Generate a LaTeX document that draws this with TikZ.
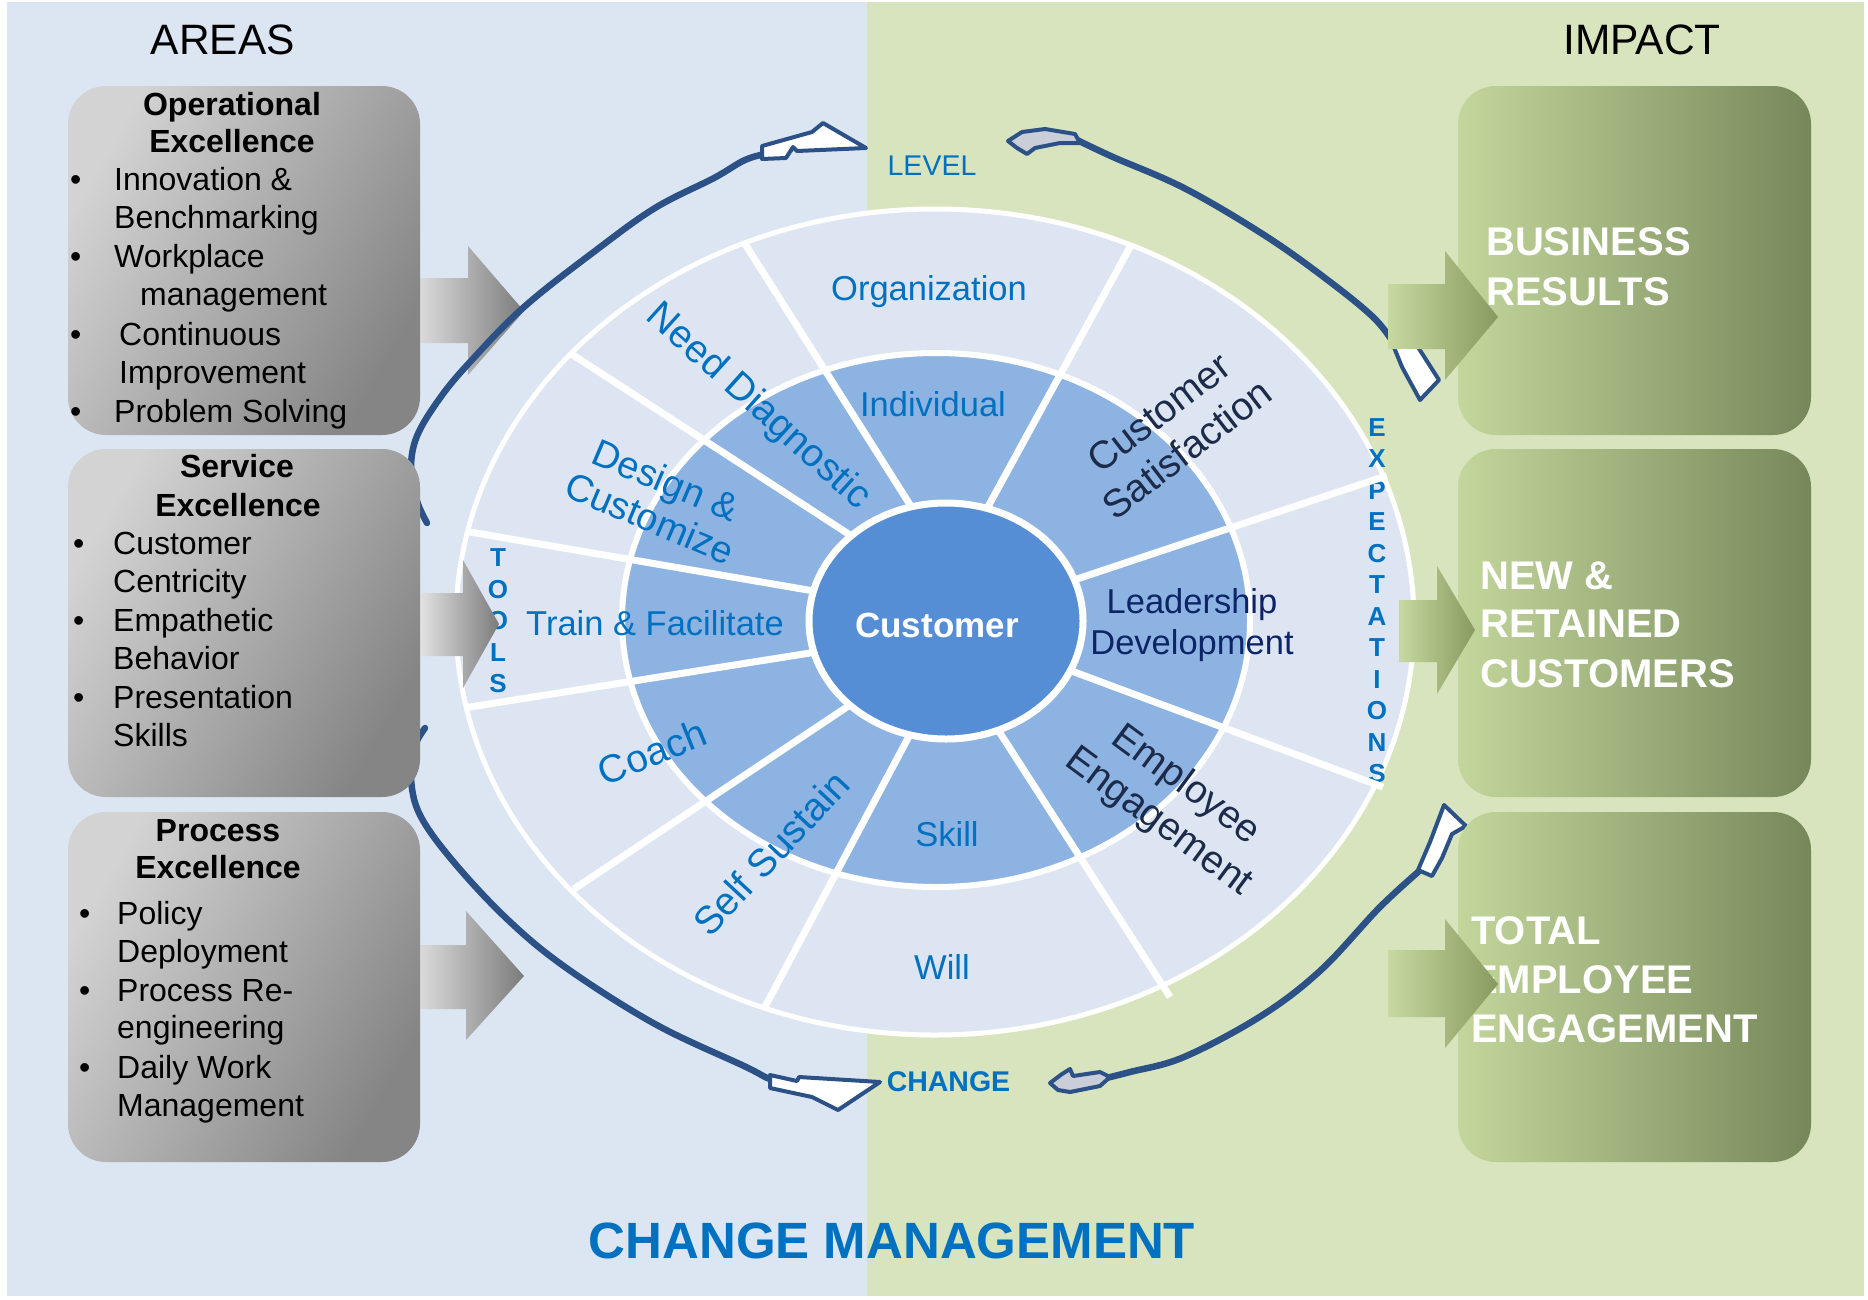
\documentclass[tikz,border=0pt]{standalone}
\usepackage{fontspec}
\setmainfont{Liberation Sans}
\definecolor{bgl}{HTML}{DCE6F2}
\definecolor{bgr}{HTML}{D7E4BD}
\definecolor{ringo}{HTML}{DCE5F1}
\definecolor{ringm}{HTML}{8DB3E2}
\definecolor{custc}{HTML}{558ED5}
\definecolor{tblue}{HTML}{0070C0}
\definecolor{navyt}{HTML}{0D2467}
\definecolor{darkt}{HTML}{1C2B4A}
\definecolor{curvec}{HTML}{2C5187}
\definecolor{tailc}{HTML}{C9CED8}
\definecolor{gboxl}{HTML}{D3D3D3}
\definecolor{gboxr}{HTML}{858585}
\definecolor{garl}{HTML}{E2E2E2}
\definecolor{garr}{HTML}{7C7C7C}
\definecolor{grboxl}{HTML}{C3D69B}
\definecolor{grboxr}{HTML}{76885A}
\definecolor{grarl}{HTML}{C6D9A0}
\definecolor{grarr}{HTML}{889A5F}
\begin{document}
\begin{tikzpicture}[x=1pt,y=-1pt,
  lbl/.style={font={\fontsize{34.5}{41}\selectfont}, text=tblue, inner sep=0pt},
  rlbl/.style={font={\fontsize{39}{46}\selectfont}, text=tblue, inner sep=0pt},
  lettr/.style={font={\fontsize{26}{30}\selectfont\bfseries}, text=tblue, inner sep=0pt, text height=19pt, text depth=0pt},
  spokeln/.style={white, line width=7pt, shorten <=-4pt, shorten >=-20pt},
  headtxt/.style={font={\fontsize{32}{38}\selectfont\bfseries}, text=black, inner sep=0pt, anchor=base},
  itemtxt/.style={font={\fontsize{32}{38}\selectfont}, text=black, inner sep=0pt, anchor=base west},
  gtxt/.style={font={\fontsize{40}{48}\selectfont\bfseries}, text=white, inner sep=0pt, anchor=base west},
  titletxt/.style={font={\fontsize{42.5}{50}\selectfont}, text=black, inner sep=0pt, anchor=base},
  graybox/.style={rounded corners=38pt, top color=gboxl, bottom color=gboxr, shading angle=60, minimum width=352pt, inner sep=0pt},
  greenbox/.style={rounded corners=38pt, left color=grboxl, right color=grboxr, minimum width=353pt, inner sep=0pt},
  grayarr/.style={left color=garl, right color=garr},
  greenarr/.style={left color=grarl, right color=grarr},
  curveln/.style={draw=curvec, line width=6.5pt, line cap=round, line join=round},
  headshape/.style={fill=white, draw=curvec, line width=4pt, line join=round},
  tailshape/.style={fill=tailc, draw=curvec, line width=4pt, line join=round}
]
\useasboundingbox (0,0) rectangle (1868,1299);
\fill[white] (0,0) rectangle (1868,1299);
\fill[bgl] (7,2) rectangle (867,1296);
\fill[bgr] (867,2) rectangle (1864,1296);

% ---------- wheel ----------
\draw[white, line width=5pt, fill=ringo] (935,622) ellipse [x radius=479, y radius=413];
\draw[white, line width=6pt, fill=ringm] (936,620) ellipse [x radius=314, y radius=267];

\foreach \l [count=\i] in {T,O,O,L,S}
  \node[lettr] (tools\i) at (498,{557+(\i-1)*31.5}) {\l};
\foreach \l [count=\i] in {E,X,P,E,C,T,A,T,I,O,N,S}
  \node[lettr] (expe\i) at (1377,{427+(\i-1)*31.45}) {\l};

\draw[spokeln] (747,247) -- (907,500);
\draw[spokeln] (573,355) -- (847,533);
\draw[spokeln] (470,532) -- (808,590);
\draw[spokeln] (470,707) -- (810,653);
\draw[spokeln] (577,887) -- (847,707);
\draw[spokeln] (767,1003) -- (907,740);
\draw[spokeln, shorten <=0pt] (1170,997) -- (1000,733);
\draw[spokeln, shorten <=0pt] (1383,787) -- (1077,673);
\draw[spokeln] (1383,477) -- (1083,577);
\draw[spokeln] (1130,247) -- (990,503);

\draw[white, line width=7pt, fill=custc] (946,621) ellipse [x radius=137, y radius=118];

\node[lbl] (org) at (929,292) {Organization};
\node[lbl] (indiv) at (933,404) {Individual};
\node[font={\fontsize{35}{42}\selectfont\bfseries}, text=white, inner sep=0pt] (cust) at (937,625) {Customer};
\node[lbl] (train) at (655,623) {Train \& Facilitate};
\node[lbl, text=navyt, align=center] (lead) at (1192,625) {Leadership\\Development};
\node[lbl] (skill) at (947,834) {Skill};
\node[lbl] (will) at (942,967) {Will};
\node[rlbl, rotate=-42] (need) at (758,407) {Need Diagnostic};
\node[rlbl, rotate=-23, align=center, font={\fontsize{38}{41}\selectfont}] (design) at (658,499) {Design \&\\Customize};
\node[rlbl, rotate=22] (coach) at (652,752) {Coach};
\node[rlbl, rotate=47] (selfs) at (771,853) {Self Sustain};
\node[rlbl, rotate=37.5, text=darkt, align=center] (csat) at (1173,431) {Customer\\Satisfaction};
\node[rlbl, rotate=-36.5, text=darkt, align=center] (empe) at (1172,804) {Employee\\Engagement};

% ---------- gray arrows ----------
\shade[grayarr] (411,278) -- (468,278) -- (468,246) -- (524,311) -- (468,375) -- (468,343) -- (411,343) -- cycle;
\shade[grayarr] (420,593) -- (463,593) -- (463,560) -- (499,624) -- (463,688) -- (463,656) -- (420,656) -- cycle;
\shade[grayarr] (411,945) -- (466,945) -- (466,911) -- (524,976) -- (466,1040) -- (466,1009) -- (411,1009) -- cycle;

% ---------- left curved arrows ----------
\draw[curveln] plot[smooth, tension=0.6] coordinates {(427,523) (417,501) (411,469) (417,436) (440,398) (470,362) (524,307) (595,251) (655,208) (714,178) (745,160) (770,153) (790,150)};
\filldraw[headshape] (762,146) -- (812,132) -- (823,123) -- (866,148) -- (797,151) -- (793,147) -- (786,158) -- (762,159) -- cycle;
\draw[curveln] plot[smooth, tension=0.6] coordinates {(425,728) (414,748) (411,779) (420,815) (452,860) (506,918) (565,967) (655,1024) (744,1066) (770,1079) (790,1082)};
\filldraw[headshape] (770,1075) -- (797,1081) -- (799,1077) -- (880,1082) -- (838,1110) -- (812,1097) -- (770,1088) -- cycle;

% ---------- gray boxes ----------
\node[graybox, minimum height=349pt] (box1) at (244,260.5) {};
\node[graybox, minimum height=348pt] (box2) at (244,623) {};
\node[graybox, minimum height=350pt] (box3) at (244,987) {};

\node[headtxt] (h1a) at (232,115) {Operational};
\node[headtxt] (h1b) at (232,152) {Excellence};
\node[itemtxt] (b1a) at (70,190) {•};
\node[itemtxt] (b1b) at (70,267) {•};
\node[itemtxt] (b1c) at (70,345) {•};
\node[itemtxt] (b1d) at (70,422) {•};
\node[itemtxt] (i1a) at (114,190) {Innovation \&};
\node[itemtxt] (i1b) at (114,228) {Benchmarking};
\node[itemtxt] (i1c) at (114,267) {Workplace};
\node[itemtxt] (i1d) at (140,305) {management};
\node[itemtxt] (i1e) at (119,345) {Continuous};
\node[itemtxt] (i1f) at (119,383) {Improvement};
\node[itemtxt] (i1g) at (114,422) {Problem Solving};

\node[headtxt] (h2a) at (237,477) {Service};
\node[headtxt] (h2b) at (238,516) {Excellence};
\node[itemtxt] (b2a) at (73,554) {•};
\node[itemtxt] (b2b) at (73,631) {•};
\node[itemtxt] (b2c) at (73,708) {•};
\node[itemtxt] (i2a) at (113,554) {Customer};
\node[itemtxt] (i2b) at (113,592) {Centricity};
\node[itemtxt] (i2c) at (113,631) {Empathetic};
\node[itemtxt] (i2d) at (113,669) {Behavior};
\node[itemtxt] (i2e) at (113,708) {Presentation};
\node[itemtxt] (i2f) at (113,746) {Skills};

\node[headtxt] (h3a) at (218,841) {Process};
\node[headtxt] (h3b) at (218,878) {Excellence};
\node[itemtxt] (b3a) at (79,924) {•};
\node[itemtxt] (b3b) at (79,1001) {•};
\node[itemtxt] (b3c) at (79,1078) {•};
\node[itemtxt] (i3a) at (117,924) {Policy};
\node[itemtxt] (i3b) at (117,962) {Deployment};
\node[itemtxt] (i3c) at (117,1001) {Process Re-};
\node[itemtxt] (i3d) at (117,1038) {engineering};
\node[itemtxt] (i3e) at (117,1078) {Daily Work};
\node[itemtxt] (i3f) at (117,1116) {Management};

% ---------- right curved arrows ----------
\draw[curveln] plot[smooth, tension=0.6] coordinates {(1075,139) (1113,157) (1184,188) (1261,233) (1321,275) (1374,318) (1398,350)};
\filldraw[tailshape] (1008,141) -- (1022,132) -- (1045,129) -- (1075,134) -- (1080,143) -- (1060,143) -- (1035,148) -- (1027,154) -- (1017,148) -- cycle;
\filldraw[headshape] (1393,345) -- (1416,344) -- (1439,380) -- (1420,400) -- (1402,367) -- cycle;
\draw[curveln] plot[smooth, tension=0.6] coordinates {(1102,1079) (1130,1072) (1184,1057) (1261,1016) (1321,970) (1380,907) (1425,866)};
\filldraw[tailshape] (1050,1083) -- (1062,1074) -- (1070,1069) -- (1073,1076) -- (1100,1072) -- (1110,1077) -- (1100,1086) -- (1070,1092) -- (1058,1090) -- cycle;
\filldraw[headshape] (1418,870) -- (1430,842) -- (1444,805) -- (1466,826) -- (1452,834) -- (1442,858) -- (1432,876) -- cycle;

% ---------- green boxes ----------
\node[greenbox, minimum height=349pt] (gbox1) at (1634.5,260.5) {};
\node[greenbox, minimum height=348pt] (gbox2) at (1634.5,623) {};
\node[greenbox, minimum height=350pt] (gbox3) at (1634.5,987) {};

\node[gtxt] (g1a) at (1486,255) {BUSINESS};
\node[gtxt] (g1b) at (1486,305) {RESULTS};
\node[gtxt] (g2a) at (1480,589) {NEW \&};
\node[gtxt] (g2b) at (1480,637) {RETAINED};
\node[gtxt] (g2c) at (1480,687) {CUSTOMERS};
\node[gtxt] (g3a) at (1471,944) {TOTAL};
\node[gtxt] (g3b) at (1471,993) {EMPLOYEE};
\node[gtxt] (g3c) at (1471,1042) {ENGAGEMENT};

% ---------- green arrows ----------
\shade[greenarr] (1388,284) -- (1445,284) -- (1445,251) -- (1498,317) -- (1445,380) -- (1445,349) -- (1388,349) -- cycle;
\shade[greenarr] (1399,600) -- (1437,600) -- (1437,566) -- (1475,630) -- (1437,694) -- (1437,662) -- (1399,662) -- cycle;
\shade[greenarr] (1388,950) -- (1445,950) -- (1445,919) -- (1498,984) -- (1445,1048) -- (1445,1017) -- (1388,1017) -- cycle;

% ---------- titles ----------
\node[titletxt] (areas) at (223,54) {AREAS};
\node[titletxt] (impact) at (1642,54) {IMPACT};
\node[font={\fontsize{28.5}{34}\selectfont}, text=tblue, inner sep=0pt, anchor=base] (level) at (932,175) {LEVEL};
\node[font={\fontsize{28.5}{34}\selectfont\bfseries}, text=tblue, inner sep=0pt, anchor=base] (change) at (948.5,1091) {CHANGE};
\node[font={\fontsize{51}{60}\selectfont\bfseries}, text=tblue, inner sep=0pt, anchor=base] (cm) at (892,1258) {CHANGE MANAGEMENT};
\end{tikzpicture}
\end{document}
